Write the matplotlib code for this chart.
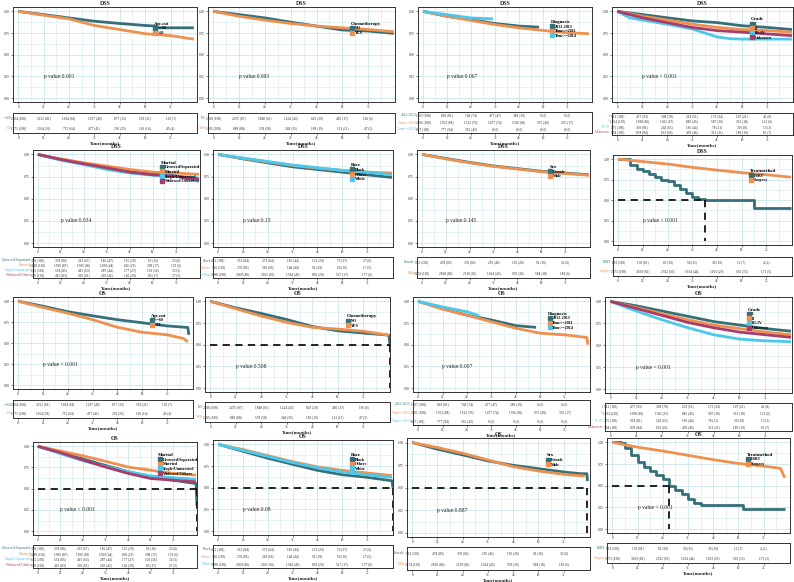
import matplotlib
matplotlib.use('Agg')
import matplotlib.pyplot as plt
from matplotlib.lines import Line2D

plt.rcParams['font.family'] = ['Liberation Serif', 'DejaVu Serif']

W, H = 794, 582
fig = plt.figure(figsize=(7.94, 5.82), dpi=100)

TEAL = '#35707A'; ORANGE = '#EE9150'; CYAN = '#4CC8EC'; MAROON = '#A83C6A'
PAL = [TEAL, ORANGE, CYAN, MAROON]

tick_months = [0, 12, 24, 36, 48, 60, 72]
yticks = [0.0, 0.25, 0.5, 0.75, 1.0]
grid12 = [0, 12, 24, 36, 48, 60, 72, 84]

# ---------------- DATA ----------------
# DSS Age.cut
dss_age_labels = ['<=60', '>60']
dss_age_t = [[0, 12, 24, 36, 48, 60, 65, 66, 83], [0, 12, 24, 36, 48, 60, 72, 80, 83]]
dss_age_s = [[1, .962, .924, .886, .86, .837, .83, .81, .81], [1, .955, .913, .837, .79, .742, .72, .69, .68]]
dss_age_risk = [['2664 (100)', '2152 (81)', '1694 (64)', '1297 (49)', '877 (33)', '559 (21)', '190 (7)'],
                ['1171 (100)', '1064 (91)', '752 (64)', '477 (41)', '291 (25)', '166 (14)', '45 (4)']]
# DSS Chemotherapy
dss_chemo_labels = ['NO', 'YES']
dss_chemo_t = [grid12, grid12]
dss_chemo_s = [[1, .962, .924, .875, .83, .785, .773, .746], [1, .943, .898, .86, .83, .81, .79, .765]]
dss_chemo_risk = [['2830 (100)', '2475 (87)', '1848 (65)', '1224 (43)', '829 (29)', '485 (17)', '166 (6)'],
                  ['1005 (100)', '888 (88)', '578 (58)', '348 (35)', '188 (19)', '111 (11)', '47 (5)']]
# DSS Diagnosis
diag_labels = ['2012-2013', 'Time<=2011', 'Time>=2014']
dss_diag_t = [[0, 12, 24, 36, 48, 58], [0, 12, 24, 36, 48, 60, 72, 83], [0, 12, 24, 35]]
dss_diag_s = [[1, .943, .905, .86, .83, .818], [1, .943, .894, .848, .81, .78, .754, .742], [1, .962, .924, .913]]
diag_risk = [['1007 (100)', '818 (81)', '748 (74)', '477 (47)', '388 (39)', '0 (0)', '0 (0)'],
             ['2001 (100)', '1763 (88)', '1512 (76)', '1477 (74)', '1326 (66)', '975 (49)', '335 (17)'],
             ['827 (100)', '777 (94)', '355 (43)', '0 (0)', '0 (0)', '0 (0)', '0 (0)']]
# DSS Grade
grade_labels = ['I', 'II', 'III-IV', 'Unknown']
dss_grade_t = [grid12, grid12, [0, 6, 12, 24, 36, 48, 54, 60, 84], grid12]
dss_grade_s = [[1, .963, .926, .89, .87, .834, .815, .79],
               [1, .944, .90, .852, .815, .79, .778, .76],
               [1, .926, .90, .852, .797, .705, .685, .68, .68],
               [1, .926, .87, .815, .778, .76, .74, .72]]
grade_risk = [['512 (100)', '477 (93)', '398 (78)', '263 (51)', '173 (34)', '107 (21)', '41 (8)'],
              ['1954 (100)', '1690 (86)', '1302 (67)', '885 (45)', '587 (30)', '351 (18)', '121 (6)'],
              ['375 (100)', '303 (81)', '243 (65)', '166 (44)', '78 (21)', '39 (10)', '13 (3)'],
              ['994 (100)', '838 (84)', '653 (66)', '459 (46)', '313 (31)', '188 (19)', '65 (7)']]
# DSS Marital
marital_labels = ['Divorced/Separated', 'Married', 'Single/Unmarried', 'Widowed/Others']
dss_marital_t = [grid12] * 4
dss_marital_s = [[1, .943, .898, .849, .811, .785, .755, .70],
                 [1, .95, .905, .868, .83, .80, .79, .775],
                 [1, .935, .886, .83, .79, .765, .755, .735],
                 [1, .943, .894, .849, .80, .77, .755, .72]]
marital_risk = [['392 (100)', '338 (86)', '261 (67)', '185 (47)', '115 (29)', '63 (16)', '23 (6)'],
                ['2288 (100)', '1995 (87)', '1505 (66)', '1009 (44)', '666 (29)', '398 (17)', '133 (6)'],
                ['655 (100)', '554 (85)', '415 (63)', '287 (44)', '177 (27)', '103 (16)', '33 (5)'],
                ['500 (100)', '415 (83)', '305 (61)', '210 (42)', '145 (29)', '83 (17)', '27 (5)']]
# DSS Race
race_labels = ['Black', 'Others', 'White']
dss_race_t = [grid12] * 3
dss_race_s = [[1, .95, .905, .86, .83, .80, .77, .74],
              [1, .955, .915, .875, .845, .82, .80, .79],
              [1, .96, .92, .88, .85, .82, .80, .77]]
race_risk = [['421 (100)', '352 (84)', '271 (64)', '185 (44)', '123 (29)', '73 (17)', '27 (6)'],
             ['316 (100)', '270 (85)', '210 (66)', '140 (44)', '92 (29)', '50 (16)', '17 (5)'],
             ['3098 (100)', '2669 (86)', '2021 (65)', '1384 (45)', '890 (29)', '527 (17)', '177 (6)']]
# DSS Sex
sex_labels = ['Female', 'Male']
dss_sex_t = [grid12] * 2
dss_sex_s = [[1, .955, .91, .87, .84, .81, .79, .77], [1, .95, .905, .865, .835, .805, .785, .765]]
sex_risk = [['561 (100)', '478 (85)', '370 (66)', '256 (46)', '156 (28)', '91 (16)', '32 (6)'],
            ['3274 (100)', '2818 (86)', '2130 (65)', '1414 (43)', '970 (30)', '584 (18)', '183 (6)']]
# DSS Treatmethod
treat_labels = ['ESRT', 'Surgery']
dss_treat_t = [[0, 3, 6, 9, 12, 15, 18, 21, 24, 27, 30, 33, 36, 39, 42, 66, 84], grid12]
dss_treat_s = [[1, 1, .93, .875, .85, .82, .78, .74, .73, .69, .64, .585, .54, .52, .5, .41, .41],
               [1, .97, .94, .9, .866, .835, .81, .78]]
treat_risk = [['161 (100)', '130 (81)', '81 (50)', '50 (31)', '30 (19)', '12 (7)', '4 (2)'],
              ['3673 (100)', '3029 (82)', '2332 (63)', '1634 (44)', '1053 (29)', '565 (15)', '171 (5)']]

# OS Age.cut
os_age_t = [[0, 12, 24, 36, 48, 60, 72, 82, 82.5], [0, 12, 24, 36, 48, 60, 72, 80, 82]]
os_age_s = [[1, .94, .875, .826, .78, .743, .706, .687, .6], [1, .925, .857, .78, .69, .63, .6, .555, .517]]
# OS Chemotherapy
os_chemo_t = [[0, 12, 24, 36, 48, 60, 72, 84, 84.5], grid12]
os_chemo_s = [[1, .925, .86, .79, .71, .66, .635, .61, .48], [1, .914, .83, .757, .70, .68, .655, .61]]
# OS Diagnosis
os_diag_t = [[0, 12, 24, 36, 48, 58], [0, 12, 24, 36, 48, 60, 72, 83, 83.5], [0, 12, 24, 30]]
os_diag_s = [[1, .917, .84, .785, .72, .70], [1, .91, .84, .765, .69, .633, .614, .583, .5], [1, .936, .88, .834]]
# OS Grade
os_grade_t = [grid12] * 4
os_grade_s = [[1, .95, .89, .83, .77, .73, .69, .66],
              [1, .93, .86, .79, .73, .69, .65, .62],
              [1, .89, .79, .70, .62, .57, .55, .54],
              [1, .92, .84, .76, .70, .65, .62, .59]]
# OS Marital
os_marital_t = [[0, 12, 24, 36, 48, 60, 72, 84, 84.5], grid12, grid12, grid12]
os_marital_s = [[1, .925, .85, .774, .70, .64, .60, .56, .3],
                [1, .944, .887, .823, .755, .717, .68, .66],
                [1, .914, .83, .762, .70, .65, .63, .61],
                [1, .925, .838, .755, .68, .62, .60, .58]]
# OS Race
os_race_t = [[0, 12, 24, 36, 48, 60, 72, 84, 84.5], grid12, grid12]
os_race_s = [[1, .92, .84, .77, .70, .65, .62, .58, .5],
             [1, .94, .87, .80, .74, .70, .67, .64],
             [1, .93, .86, .79, .73, .68, .65, .62]]
# OS Sex
os_sex_t = [[0, 12, 24, 36, 48, 60, 72, 80, 83, 83.3], [0, 12, 24, 36, 48, 60, 72, 82]]
os_sex_s = [[1, .926, .863, .796, .748, .711, .674, .655, .655, .574], [1, .944, .881, .807, .733, .685, .648, .63]]
# OS Treatmethod
os_treat_t = [[0, 4, 6, 9, 12, 15, 18, 21, 24, 27, 30, 33, 36, 39, 42, 62, 82],
              [0, 12, 24, 36, 48, 60, 72, 80, 82]]
os_treat_s = [[1, .99, .94, .85, .775, .72, .665, .625, .575, .5, .455, .4, .345, .305, .275, .23, .23],
              [1, .944, .9, .85, .8, .756, .726, .7, .59]]

# ---------------- DRAWING ----------------
GRID = '#d3eaee'
TXT = '#222222'


def draw_panel(pos, endpoint, ts, ss, labels, legtitle, ptext, risk,
               med=None, step_idx=(), leg_y=0.9):
    l, r, pt, pb, tt, tb = pos
    xl = (-2.5, 84.5)
    ax = fig.add_axes([l / W, 1 - pb / H, (r - l) / W, (pb - pt) / H])
    ax.set_xlim(*xl)
    ax.set_ylim(-0.045, 1.05)
    ax.set_xticks(tick_months)
    ax.set_xticks([6, 18, 30, 42, 54, 66, 78], minor=True)
    ax.set_yticks(yticks)
    ax.set_yticks([0.125, 0.375, 0.625, 0.875], minor=True)
    ax.set_yticklabels(['%.2f' % v for v in yticks])
    ax.grid(True, which='major', color=GRID, lw=0.7)
    ax.grid(True, which='minor', color=GRID, lw=0.4)
    ax.set_axisbelow(True)
    ax.tick_params(labelsize=2.4, length=1.5, width=0.4, pad=1, colors=TXT)
    ax.tick_params(which='minor', length=0)
    for sp in ax.spines.values():
        sp.set_color('#333333'); sp.set_linewidth(0.7)
    for i, (t, s) in enumerate(zip(ts, ss)):
        ds = 'steps-post' if i in step_idx else 'default'
        ax.plot(t, s, color=PAL[i], lw=2.0, drawstyle=ds, solid_capstyle='butt')
    if med is not None:
        ax.plot([0, med], [0.5, 0.5], color='#111111', lw=1.3, ls=(0, (4, 3)))
        ax.plot([med, med], [0.5, 0.0], color='#111111', lw=1.3, ls=(0, (4, 3)))
    ax.set_title(endpoint, fontsize=4.2, fontweight='bold', pad=1.5, color=TXT)
    ax.text(12, 0.25, ptext, fontsize=4, color=TXT, va='center', ha='left')
    handles = [Line2D([], [], marker='s', ls='none', color=PAL[i], markersize=2.8)
               for i in range(len(labels))]
    leg = ax.legend(handles, labels, title=legtitle, loc='upper left',
                    bbox_to_anchor=(64, leg_y), bbox_transform=ax.transData,
                    frameon=False, fontsize=3.0, title_fontsize=3.4,
                    handlelength=0.6, handletextpad=0.4, labelspacing=0.15,
                    borderpad=0, borderaxespad=0, alignment='left')
    leg.get_title().set_fontweight('bold')
    for tx in leg.get_texts():
        tx.set_fontweight('bold')
    # risk table
    tax = fig.add_axes([l / W, 1 - tb / H, (r - l) / W, (tb - tt) / H])
    tax.set_xlim(*xl)
    tax.set_ylim(0, 1)
    tax.set_yticks([])
    tax.set_xticks(tick_months)
    tax.tick_params(labelsize=2.4, length=1.5, width=0.4, pad=0.8, colors=TXT)
    for sp in tax.spines.values():
        sp.set_color('#333333'); sp.set_linewidth(0.7)
    n = len(risk)
    for i, row in enumerate(risk):
        y = 1 - (i + 0.5) / n
        for x, txt in zip(tick_months, row):
            tax.text(x, y, txt, fontsize=2.4, ha='center', va='center', color=TXT)
        tax.text(-3.5, y, labels[i], fontsize=2.6, ha='right', va='center', color=PAL[i])
    tax.set_xlabel('Time(months)', fontsize=3.6, fontweight='bold', labelpad=0.3, color=TXT)
    return ax


# positions (left, right, plot_top, plot_bottom, table_top, table_bottom) in pixels
POS = [
    (13, 197, 7, 102, 113, 133), (208, 395, 7, 102, 113, 133),
    (418, 592, 7, 102, 112, 133), (612, 793, 7, 102, 113, 135),
    (33, 200, 150, 247, 257, 278), (213, 393, 150, 247, 257, 278),
    (417, 590, 150, 247, 257, 278), (613, 792, 155, 245, 257, 276),
    (13, 193, 297, 389, 400, 418), (205, 390, 297, 392, 402, 422),
    (413, 590, 297, 392, 400, 425), (605, 792, 297, 393, 403, 431),
    (33, 197, 442, 535, 545, 568), (213, 393, 440, 535, 545, 568),
    (407, 590, 438, 537, 547, 570), (607, 790, 438, 533, 543, 563),
]

draw_panel(POS[0], 'DSS', dss_age_t, dss_age_s, dss_age_labels, 'Age.cut', 'p value:0.001', dss_age_risk, leg_y=0.88)
draw_panel(POS[1], 'DSS', dss_chemo_t, dss_chemo_s, dss_chemo_labels, 'Chemotherapy', 'p value:0.693', dss_chemo_risk, leg_y=0.88)
draw_panel(POS[2], 'DSS', dss_diag_t, dss_diag_s, diag_labels, 'Diagnosis', 'p value:0.067', diag_risk, leg_y=0.9)
draw_panel(POS[3], 'DSS', dss_grade_t, dss_grade_s, grade_labels, 'Grade', 'p value < 0.001', grade_risk, leg_y=0.93)
draw_panel(POS[4], 'DSS', dss_marital_t, dss_marital_s, marital_labels, 'Marital', 'p value:0.034', marital_risk, leg_y=0.93)
draw_panel(POS[5], 'DSS', dss_race_t, dss_race_s, race_labels, 'Race', 'p value:0.15', race_risk, leg_y=0.9)
draw_panel(POS[6], 'DSS', dss_sex_t, dss_sex_s, sex_labels, 'Sex', 'p value:0.145', sex_risk, leg_y=0.88)
draw_panel(POS[7], 'DSS', dss_treat_t, dss_treat_s, treat_labels, 'Treatmethod', 'p value < 0.001', treat_risk,
           med=42, step_idx=(0,), leg_y=0.88)
draw_panel(POS[8], 'OS', os_age_t, os_age_s, dss_age_labels, 'Age.cut', 'p value < 0.001', dss_age_risk, leg_y=0.85)
draw_panel(POS[9], 'OS', os_chemo_t, os_chemo_s, dss_chemo_labels, 'Chemotherapy', 'p value:0.508', dss_chemo_risk,
           med=84.5, leg_y=0.85)
draw_panel(POS[10], 'OS', os_diag_t, os_diag_s, diag_labels, 'Diagnosis', 'p value:0.007', diag_risk, leg_y=0.88)
draw_panel(POS[11], 'OS', os_grade_t, os_grade_s, grade_labels, 'Grade', 'p value < 0.001', grade_risk, leg_y=0.93)
draw_panel(POS[12], 'OS', os_marital_t, os_marital_s, marital_labels, 'Marital', 'p value < 0.001', marital_risk,
           med=84.5, leg_y=0.92)
draw_panel(POS[13], 'OS', os_race_t, os_race_s, race_labels, 'Race', 'p value:0.08', race_risk, med=84.5, leg_y=0.9)
draw_panel(POS[14], 'OS', os_sex_t, os_sex_s, sex_labels, 'Sex', 'p value:0.887', sex_risk, med=83.3, leg_y=0.88)
draw_panel(POS[15], 'OS', os_treat_t, os_treat_s, treat_labels, 'Treatmethod', 'p value < 0.001', treat_risk,
           med=27, step_idx=(0,), leg_y=0.88)

fig.savefig('out.png', dpi=100)
